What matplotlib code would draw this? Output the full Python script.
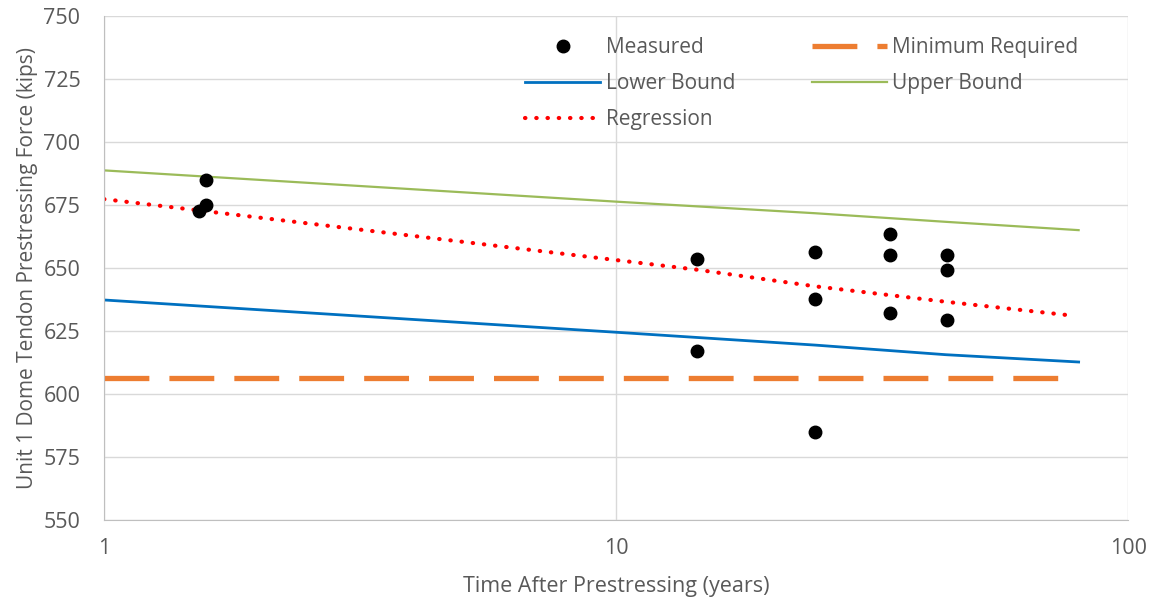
import matplotlib.pyplot as plt
import numpy as np

# Daten
meas_years = [1.53, 1.58, 1.58, 14.4, 14.4, 24.5, 24.5, 24.5, 34.2, 34.2, 34.2, 44.3, 44.3, 44.3]
meas_force = [672.5, 685.0, 675.0, 653.5, 617.0, 656.5, 637.5, 585.0, 663.5, 655.0, 632.0, 655.0, 649.0, 629.5]

bound_years = [1, 10, 24.5, 44, 80]
lower_force = [637.3, 624.5, 619.4, 615.6, 612.7]
upper_force = [688.7, 676.3, 671.7, 668.3, 665.0]

reg_years = [1, 14.4, 24.5, 44, 77]
reg_force = [677.3, 649.3, 642.7, 636.6, 631.2]

min_years = [1, 78]
min_force = [606.5, 606.5]

plt.rcParams['font.family'] = ['Open Sans', 'DejaVu Sans']
txt = '#595959'

fig = plt.figure(figsize=(11.56, 6.09), dpi=100)
ax = fig.add_axes([0.09, 0.146, 0.886, 0.828])

ax.plot(meas_years, meas_force, 'o', color='black', markersize=9, label='Measured', zorder=5)
ax.plot(bound_years, lower_force, '-', color='#0070C0', lw=2, label='Lower Bound')
ax.plot(reg_years, reg_force, color='#FF0000', lw=3, linestyle=(0, (0.1, 2.6)),
        dash_capstyle='round', label='Regression')
ax.plot(min_years, min_force, color='#ED7D31', lw=3.8, linestyle=(0, (8.5, 3.8)),
        label='Minimum Required')
ax.plot(bound_years, upper_force, '-', color='#9BBB59', lw=1.6, label='Upper Bound')

ax.set_xscale('log')
ax.set_xlim(1, 100)
ax.set_ylim(550, 750)
ax.set_yticks(np.arange(550, 751, 25))
ax.set_xticks([1, 10, 100])
ax.set_xticklabels(['1', '10', '100'])
ax.minorticks_off()
ax.tick_params(axis='both', length=0, labelsize=15.5, colors=txt)
ax.tick_params(axis='x', pad=13)
ax.tick_params(axis='y', pad=17)

ax.grid(True, color='#D9D9D9', lw=1)
ax.set_axisbelow(True)
for s in ['top', 'right']:
    ax.spines[s].set_visible(False)
ax.spines['left'].set_color('#BFBFBF')
ax.spines['bottom'].set_color('#BFBFBF')

ax.set_xlabel('Time After Prestressing (years)', fontsize=15.5, color=txt, labelpad=12)
ax.set_ylabel('Unit 1 Dome Tendon Prestressing Force (kips)', fontsize=15, color=txt, labelpad=4)

leg = ax.legend(ncol=2, loc='upper left', bbox_to_anchor=(0.393, 0.995), frameon=False,
                fontsize=15, labelcolor=txt, handlelength=3.6, columnspacing=3.7,
                handletextpad=0.25, labelspacing=0.72)

fig.savefig('out.png', dpi=100)
